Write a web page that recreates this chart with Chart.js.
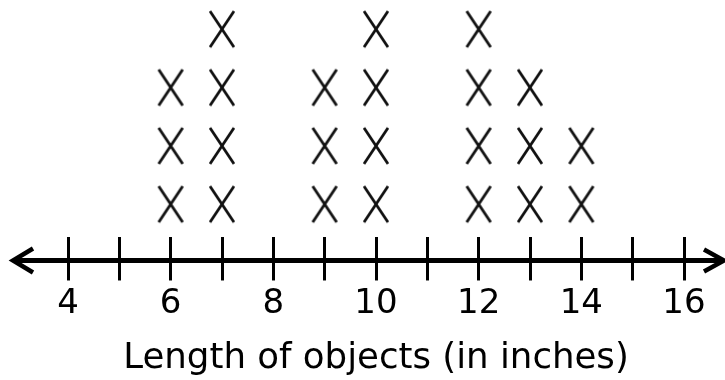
<!DOCTYPE html>
<html>
<head>
<meta charset="utf-8">
<style>
  html, body { margin: 0; padding: 0; background: #fff; }
  #wrap { width: 725px; height: 380px; position: relative; }
</style>
<script src="https://cdn.jsdelivr.net/npm/chart.js@4.4.0/dist/chart.umd.min.js"></script>
</head>
<body>
<div id="wrap"><canvas id="plot"></canvas></div>
<script>
// line plot: one X per object, stacked above its length
const lengths = [6, 7, 9, 10, 12, 13, 14];
const counts = [3, 4, 3, 4, 4, 3, 2];
const axisMin = 4, axisMax = 16;
const labeledTicks = [4, 6, 8, 10, 12, 14, 16];
const axisTitle = 'Length of objects (in inches)';

const points = [];
lengths.forEach((v, i) => { for (let k = 1; k <= counts[i]; k++) points.push({ x: v, y: k }); });

// X mark drawn like the letter: taller than wide, thin strokes
function makeX(){
  const c = document.createElement('canvas');
  c.width = 28; c.height = 40;
  const g = c.getContext('2d');
  g.strokeStyle = '#111'; g.lineWidth = 2.8; g.lineCap = 'butt';
  g.beginPath();
  g.moveTo(2, 2); g.lineTo(26, 38);
  g.moveTo(26, 2); g.lineTo(2, 38);
  g.stroke();
  return c;
}

// number line with arrow heads at both ends
const arrowLine = {
  id: 'arrowLine',
  afterDraw(chart){
    const x = chart.scales.x, ctx = chart.ctx;
    const y = chart.chartArea.bottom + 23;
    const l = x.getPixelForValue(axisMin) - 56;
    const r = x.getPixelForValue(axisMax) + 41;
    ctx.save();
    ctx.strokeStyle = '#000'; ctx.lineWidth = 5; ctx.lineJoin = 'miter'; ctx.lineCap = 'butt';
    ctx.beginPath(); ctx.moveTo(l + 2, y); ctx.lineTo(r - 2, y); ctx.stroke();
    ctx.lineWidth = 4.5;
    ctx.beginPath(); ctx.moveTo(l + 21, y - 12); ctx.lineTo(l + 1, y); ctx.lineTo(l + 21, y + 12); ctx.stroke();
    ctx.beginPath(); ctx.moveTo(r - 21, y - 11); ctx.lineTo(r - 1, y); ctx.lineTo(r - 21, y + 11); ctx.stroke();
    ctx.restore();
  }
};

Chart.defaults.font.family = '"DejaVu Sans", sans-serif';
Chart.defaults.color = '#000';

new Chart(document.getElementById('plot'), {
  type: 'scatter',
  data: { datasets: [{ data: points, pointStyle: makeX(), pointRadius: 14, clip: false }] },
  options: {
    responsive: true, maintainAspectRatio: false, animation: false,
    layout: { autoPadding: false, padding: { left: 68, right: 41, top: 0, bottom: 0 } },
    plugins: { legend: { display: false }, tooltip: { enabled: false } },
    scales: {
      x: {
        type: 'linear', min: axisMin, max: axisMax,
        border: { display: false },
        grid: { display: true, drawOnChartArea: false, drawTicks: true, tickLength: 43, color: '#000', lineWidth: 3 },
        ticks: {
          stepSize: 1, padding: 3, autoSkip: false, maxRotation: 0,
          font: { size: 34 },
          callback: v => labeledTicks.includes(v) ? String(v) : ''
        },
        title: { display: true, text: axisTitle, font: { size: 35.6 }, padding: { top: 10, bottom: 0 } }
      },
      y: { display: false, min: 0.43, max: 4.5 }
    }
  },
  plugins: [arrowLine]
});
</script>
</body>
</html>
